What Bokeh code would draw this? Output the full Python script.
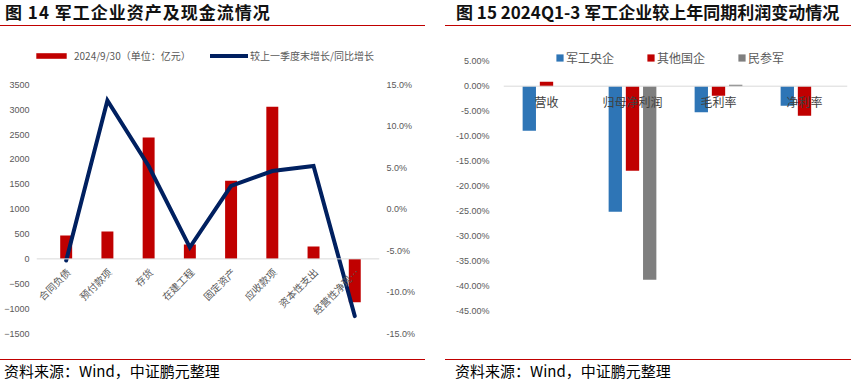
from math import pi
from bokeh.plotting import figure
from bokeh.models import (Range1d, FactorRange, LinearAxis, FixedTicker, PrintfTickFormatter,
                          Span, Legend, LegendItem, ColumnDataSource, Div)
from bokeh.core.properties import value
from bokeh.transform import dodge
from bokeh.layouts import row, column
from bokeh.embed import file_html
from bokeh.resources import INLINE

# ---------------- data: left chart ----------------
left_title = "图 14 军工企业资产及现金流情况"
left_cats = ["合同负债", "预付款项", "存货", "在建工程", "固定资产", "应收款项", "资本性支出", "经营性净现…"]
asset_vals = [470, 550, 2440, 290, 1570, 3060, 250, -870]          # 亿元
growth_vals = [-6.2, 13.1, 5.2, -4.6, 2.8, 4.6, 5.2, -12.9]        # %
left_ticks = [-1500, -1000, -500, 0, 500, 1000, 1500, 2000, 2500, 3000, 3500]
pct_ticks = [-15, -10, -5, 0, 5, 10, 15]
bar_label = "2024/9/30（单位：亿元）"
line_label = "较上一季度末增长/同比增长"

# ---------------- data: right chart ----------------
right_title = "图 15 2024Q1-3 军工企业较上年同期利润变动情况"
right_cats = ["营收", "归母净利润", "毛利率", "净利率"]
central_soe = [-8.9, -25.1, -5.2, -3.9]
other_soe = [0.9, -16.9, -1.9, -5.9]
private_mil = [0.0, -38.7, 0.3, 0.0]
series_names = ["军工央企", "其他国企", "民参军"]
right_ticks = [-45, -40, -35, -30, -25, -20, -15, -10, -5, 0, 5]

source_text = "资料来源：Wind，中证鹏元整理"

RED = "#c00000"
NAVY = "#002060"
BLUE = "#2e75b6"
GREY = "#7f7f7f"
TICK = "#595959"
CJK = "Noto Sans CJK SC"

TITLE_H, PLOT_H, SRC_H = 26, 333, 20
FRAME_T, FRAME_B = 19, 26          # shared top/bottom borders (frame height 288)

# ================= left figure =================
L_W = 432
p1 = figure(width=L_W, height=PLOT_H, output_backend="svg", toolbar_location=None,
            x_range=Range1d(-0.72, 7.60), y_range=Range1d(-1500, 4290),
            x_axis_location=None, y_axis_location="left", title=None,
            min_border_left=36, min_border_right=53,
            min_border_top=FRAME_T, min_border_bottom=FRAME_B)
p1.extra_y_ranges = {"pct": Range1d(-15, 19.74)}
p1.outline_line_color = None
p1.grid.visible = False

p1.yaxis[0].ticker = FixedTicker(ticks=left_ticks)
ax_r = LinearAxis(y_range_name="pct", ticker=FixedTicker(ticks=pct_ticks),
                  formatter=PrintfTickFormatter(format="%.1f%%"))
p1.add_layout(ax_r, "right")
for ax in [p1.yaxis[0], ax_r]:
    ax.axis_line_color = None
    ax.major_tick_line_color = None
    ax.minor_tick_line_color = None
    ax.major_label_text_font = "Liberation Sans"
    ax.major_label_text_font_size = "9px"
    ax.major_label_text_color = TICK
p1.yaxis[0].major_label_standoff = 1
ax_r.major_label_standoff = 1

x_idx = list(range(len(left_cats)))
src1 = ColumnDataSource(dict(x=x_idx, cat=left_cats, val=asset_vals, g=growth_vals,
                             zero=[0] * len(left_cats)))
p1.add_layout(Span(location=0, dimension="width", line_color="#d9d9d9", line_width=1))
r_bar = p1.vbar(x="x", top="val", width=0.29, source=src1, fill_color=RED, line_color=None)
r_line = p1.line(x="x", y="g", source=src1, y_range_name="pct", line_color=NAVY, line_width=4,
                 line_join="miter", line_cap="round")
p1.text(x="x", y="zero", text="cat", source=src1, angle=pi / 4, text_align="right",
        text_baseline="middle", x_offset=2, y_offset=11, text_font=value(CJK),
        text_font_size="10px", text_color=TICK)

leg_common = dict(padding=0, margin=0, spacing=0, border_line_color=None,
                  background_fill_alpha=0, label_text_font=CJK, label_text_color=TICK)
p1.add_layout(Legend(items=[LegendItem(label=bar_label, renderers=[r_bar])], location=(-4, 270),
                     glyph_width=38, glyph_height=7, label_height=14, label_standoff=4,
                     label_text_font_size="10px", **leg_common))
p1.add_layout(Legend(items=[LegendItem(label=line_label, renderers=[r_line])], location=(174, 270),
                     glyph_width=38, glyph_height=7, label_height=14, label_standoff=2,
                     label_text_font_size="10px", **leg_common))

# ================= right figure =================
R_W = 419
p2 = figure(width=R_W, height=PLOT_H, output_backend="svg", toolbar_location=None,
            x_range=FactorRange(*right_cats), y_range=Range1d(-49.46, 8.14),
            x_axis_location=None, y_axis_location="left", title=None,
            min_border_left=71, min_border_right=4,
            min_border_top=FRAME_T, min_border_bottom=FRAME_B)
p2.outline_line_color = None
p2.grid.visible = False
ay = p2.yaxis[0]
ay.ticker = FixedTicker(ticks=right_ticks)
ay.formatter = PrintfTickFormatter(format="%.2f%%")
ay.axis_line_color = None
ay.major_tick_line_color = None
ay.minor_tick_line_color = None
ay.major_label_text_font = "Liberation Sans"
ay.major_label_text_font_size = "9px"
ay.major_label_text_color = TICK
ay.major_label_standoff = 8

p2.add_layout(Span(location=0, dimension="width", line_color="#d9d9d9", line_width=1))
src2 = ColumnDataSource(dict(cat=right_cats, a=central_soe, b=other_soe, c=private_mil,
                             zero=[0] * len(right_cats)))
rb = []
for col, off, colr in zip(["a", "b", "c"], [-0.2, 0.0, 0.2], [BLUE, RED, GREY]):
    rb.append(p2.vbar(x=dodge("cat", off, range=p2.x_range), top=col, width=0.155, source=src2,
                      fill_color=colr, line_color=None))
p2.text(x="cat", y="zero", text="cat", source=src2, text_align="center", text_baseline="middle",
        y_offset=15, text_font=value(CJK), text_font_size="12px", text_color="#404040")

for r, name, lx in zip(rb, series_names, [52, 143, 234]):
    p2.add_layout(Legend(items=[LegendItem(label=name, renderers=[r])], location=(lx, 267),
                         glyph_width=9, glyph_height=9, label_height=16, label_standoff=2,
                         label_text_font_size="12px", **leg_common))

# ================= titles and source lines =================
def title_div(text, width, margin_left, pad_left, spacing):
    return (f'<div style="margin-left:{margin_left}px;width:{width}px;height:{TITLE_H}px;'
            f'box-sizing:border-box;border-bottom:1.5px solid {RED};padding-left:{pad_left}px;'
            f'padding-top:3px;font-family:\'{CJK}\';font-weight:bold;font-size:17px;'
            f'line-height:17px;letter-spacing:{spacing}px;color:#111111;white-space:nowrap;">'
            f'{text}</div>')


def source_div(text, width, margin_left, pad_left):
    return (f'<div style="margin-left:{margin_left}px;width:{width}px;height:{SRC_H}px;'
            f'box-sizing:border-box;border-top:1.5px solid {RED};padding-left:{pad_left}px;'
            f'padding-top:2px;font-family:\'{CJK}\';font-size:15px;line-height:17px;'
            f'color:#000000;white-space:nowrap;">{text}</div>')


t1 = Div(text=title_div(left_title, 425, 0, 5, 1), width=L_W, height=TITLE_H, margin=0)
t2 = Div(text=title_div(right_title, 406, 13, 11, 0), width=R_W, height=TITLE_H, margin=0)
s1 = Div(text=source_div(source_text, 425, 0, 4), width=L_W, height=SRC_H, margin=0)
s2 = Div(text=source_div(source_text, 406, 13, 10), width=R_W, height=SRC_H, margin=0)

layout = column(row(t1, t2), row(p1, p2), row(s1, s2))
open("out.html", "w").write(file_html(layout, INLINE))
